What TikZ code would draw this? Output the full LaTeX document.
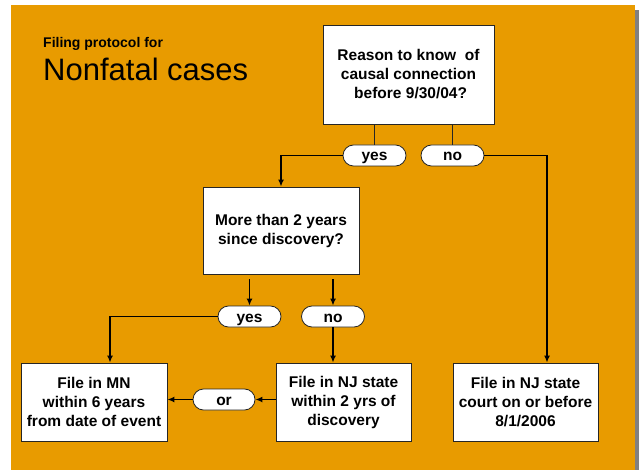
\documentclass[tikz,border=0pt]{standalone}
\usepackage{fontspec}
\setmainfont{Liberation Sans}
\usetikzlibrary{arrows.meta,shapes.misc}
\definecolor{slidebg}{RGB}{232,155,0}
\definecolor{shadowgray}{RGB}{128,128,128}
\begin{document}
\begin{tikzpicture}[
  x=1pt, y=-1pt,
  every node/.style={font=\fontsize{15.5}{19}\selectfont\bfseries},
  stepbox/.style={rectangle, draw=black!85, fill=white, line width=0.8pt,
    align=center, inner sep=2pt},
  answer/.style={rounded rectangle, draw=black!85, fill=white, line width=0.8pt,
    minimum width=63pt, minimum height=21pt, inner sep=0pt,
    text height=14pt, text depth=3pt},
  link/.style={line width=1.4pt, -{Latex[length=7pt,width=6pt]}},
  stem/.style={line width=0.9pt, draw=black!85},
]
\useasboundingbox (0,0) rectangle (639,470);

% Slide background
\fill[shadowgray] (635,10) rectangle (639,470);
\fill[slidebg] (11,5) rectangle (635,470);

% Title
\node[anchor=base west, inner sep=0pt, font=\fontsize{14}{16}\selectfont\bfseries] (subtitle) at (43,47.5) {Filing protocol for};
\node[anchor=base west, inner sep=0pt, font=\fontsize{31}{36}\selectfont] (title) at (43,81) {Nonfatal cases};

% Questions
\node[stepbox, minimum width=171pt, minimum height=99pt] (reason) at (408.5,74.5)
  {Reason to know \ of\\causal connection\\\ before 9/30/04?};
\node[stepbox, minimum width=156pt, minimum height=87pt] (more) at (281,230.5)
  {More than 2 years\\since discovery?};

% Answers
\node[answer] (yes1) at (374.5,155.5) {yes};
\node[answer] (no1) at (452.5,155.5) {no};
\node[answer] (yes2) at (249.5,316.5) {yes};
\node[answer] (no2) at (333,316.5) {no};
\node[answer, minimum width=62pt] (or) at (224,399.5) {or};

% Outcomes
\node[stepbox, minimum width=146pt, minimum height=78pt] (mn) at (94,402)
  {File in MN\\within 6 years\\from date of event};
\node[stepbox, minimum width=135pt, minimum height=78pt] (nj) at (343.5,402)
  {File in NJ state\\within 2 yrs of\\discovery};
\node[stepbox, minimum width=145pt, minimum height=78pt] (njct) at (525.5,402)
  {File in NJ state\\court on or before\\8/1/2006};

% First question
\draw[stem] (yes1.north |- reason.south) -- (yes1.north);
\draw[stem] (no1.north |- reason.south) -- (no1.north);
\draw[link] (yes1.west) -| (more.north);
\draw[link] (no1.east) -| ([xshift=21.5pt]njct.north);

% Second question
\draw[link, shorten <=5pt] (yes2.north |- more.south) -- (yes2.north);
\draw[link, shorten <=5pt] (no2.north |- more.south) -- (no2.north);
\draw[link] (yes2.west) -| ([xshift=16pt]mn.north);
\draw[link] (no2.south) -- (no2.south |- nj.north);

% Alternative
\draw[link] (nj.west |- or.east) -- (or.east);
\draw[link] (or.west) -- (or.west -| mn.east);

\end{tikzpicture}
\end{document}
